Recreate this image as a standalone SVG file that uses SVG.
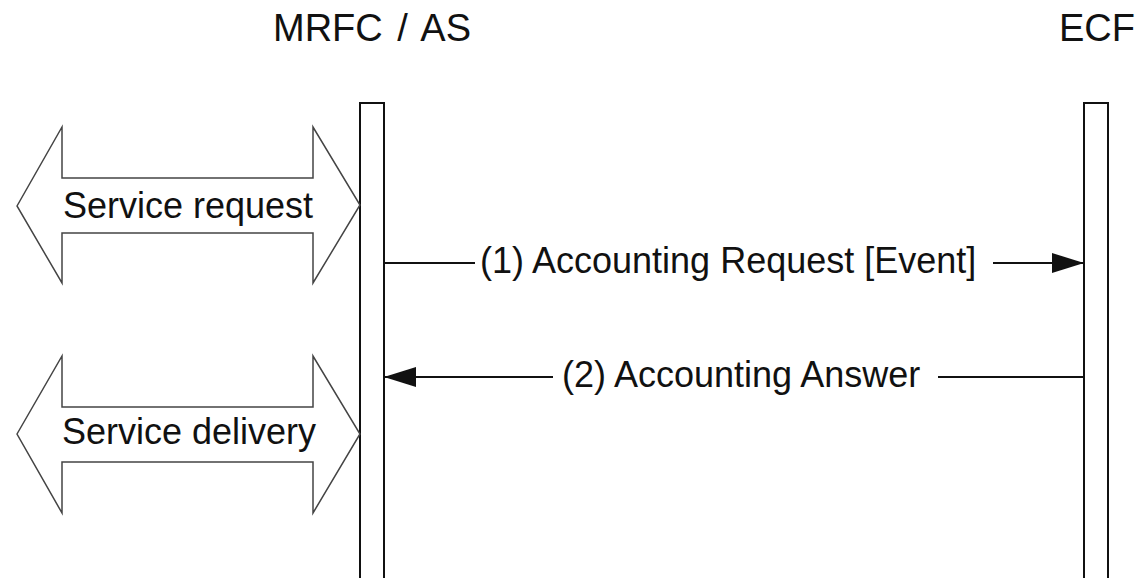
<svg xmlns="http://www.w3.org/2000/svg" width="1140" height="578" viewBox="0 0 1140 578">
  <style>
    text { font-family: "Liberation Sans", Arial, sans-serif; fill: #111; }
    .hdr { font-size: 38px; }
    .lbl { font-size: 36px; }
    .life { fill: #fff; stroke: #111; stroke-width: 2; }
    .dbl { fill: #fff; stroke: #444; stroke-width: 1.5; stroke-linejoin: miter; }
    .msg { stroke: #111; stroke-width: 2; fill: none; }
  </style>
  <defs>
    <marker id="head" viewBox="0 0 32 20" refX="32" refY="10" markerWidth="32" markerHeight="20" markerUnits="userSpaceOnUse" orient="auto">
      <path d="M0,0 L32,10 L0,20 Z" fill="#111"/>
    </marker>
  </defs>
  <rect width="1140" height="578" fill="#fff"/>

  <!-- MRFC / AS lifeline -->
  <g id="mrfc">
    <text class="hdr" x="372" y="41" text-anchor="middle" word-spacing="4">MRFC / AS</text>
    <rect class="life" x="360" y="103" width="24" height="490"/>
  </g>

  <!-- ECF lifeline -->
  <g id="ecf">
    <text class="hdr" x="1097" y="41" text-anchor="middle">ECF</text>
    <rect class="life" x="1084" y="103" width="24" height="490"/>
  </g>

  <!-- Service request double arrow -->
  <g id="service-request">
    <polygon class="dbl" points="17,206 62,127 62,178 313,178 313,127 360,205 313,283 313,233 62,233 62,283"/>
    <text class="lbl" x="63" y="218">Service request</text>
  </g>

  <!-- Service delivery double arrow -->
  <g id="service-delivery">
    <polygon class="dbl" points="17,434 62,356 62,407 313,407 313,356 360,434 313,513 313,462 62,462 62,513"/>
    <text class="lbl" x="62" y="444">Service delivery</text>
  </g>

  <!-- Messages -->
  <g id="connectors">
    <line class="msg" x1="384" y1="263" x2="475" y2="263"/>
    <line class="msg" x1="993" y1="263" x2="1084" y2="263" marker-end="url(#head)"/>
    <line class="msg" x1="1084" y1="377" x2="938" y2="377"/>
    <line class="msg" x1="553" y1="377" x2="384" y2="377" marker-end="url(#head)"/>
  </g>
  <g id="labels">
    <text class="lbl" x="480" y="273">(1) Accounting Request [Event]</text>
    <text class="lbl" x="562" y="387">(2) Accounting Answer</text>
  </g>
</svg>
